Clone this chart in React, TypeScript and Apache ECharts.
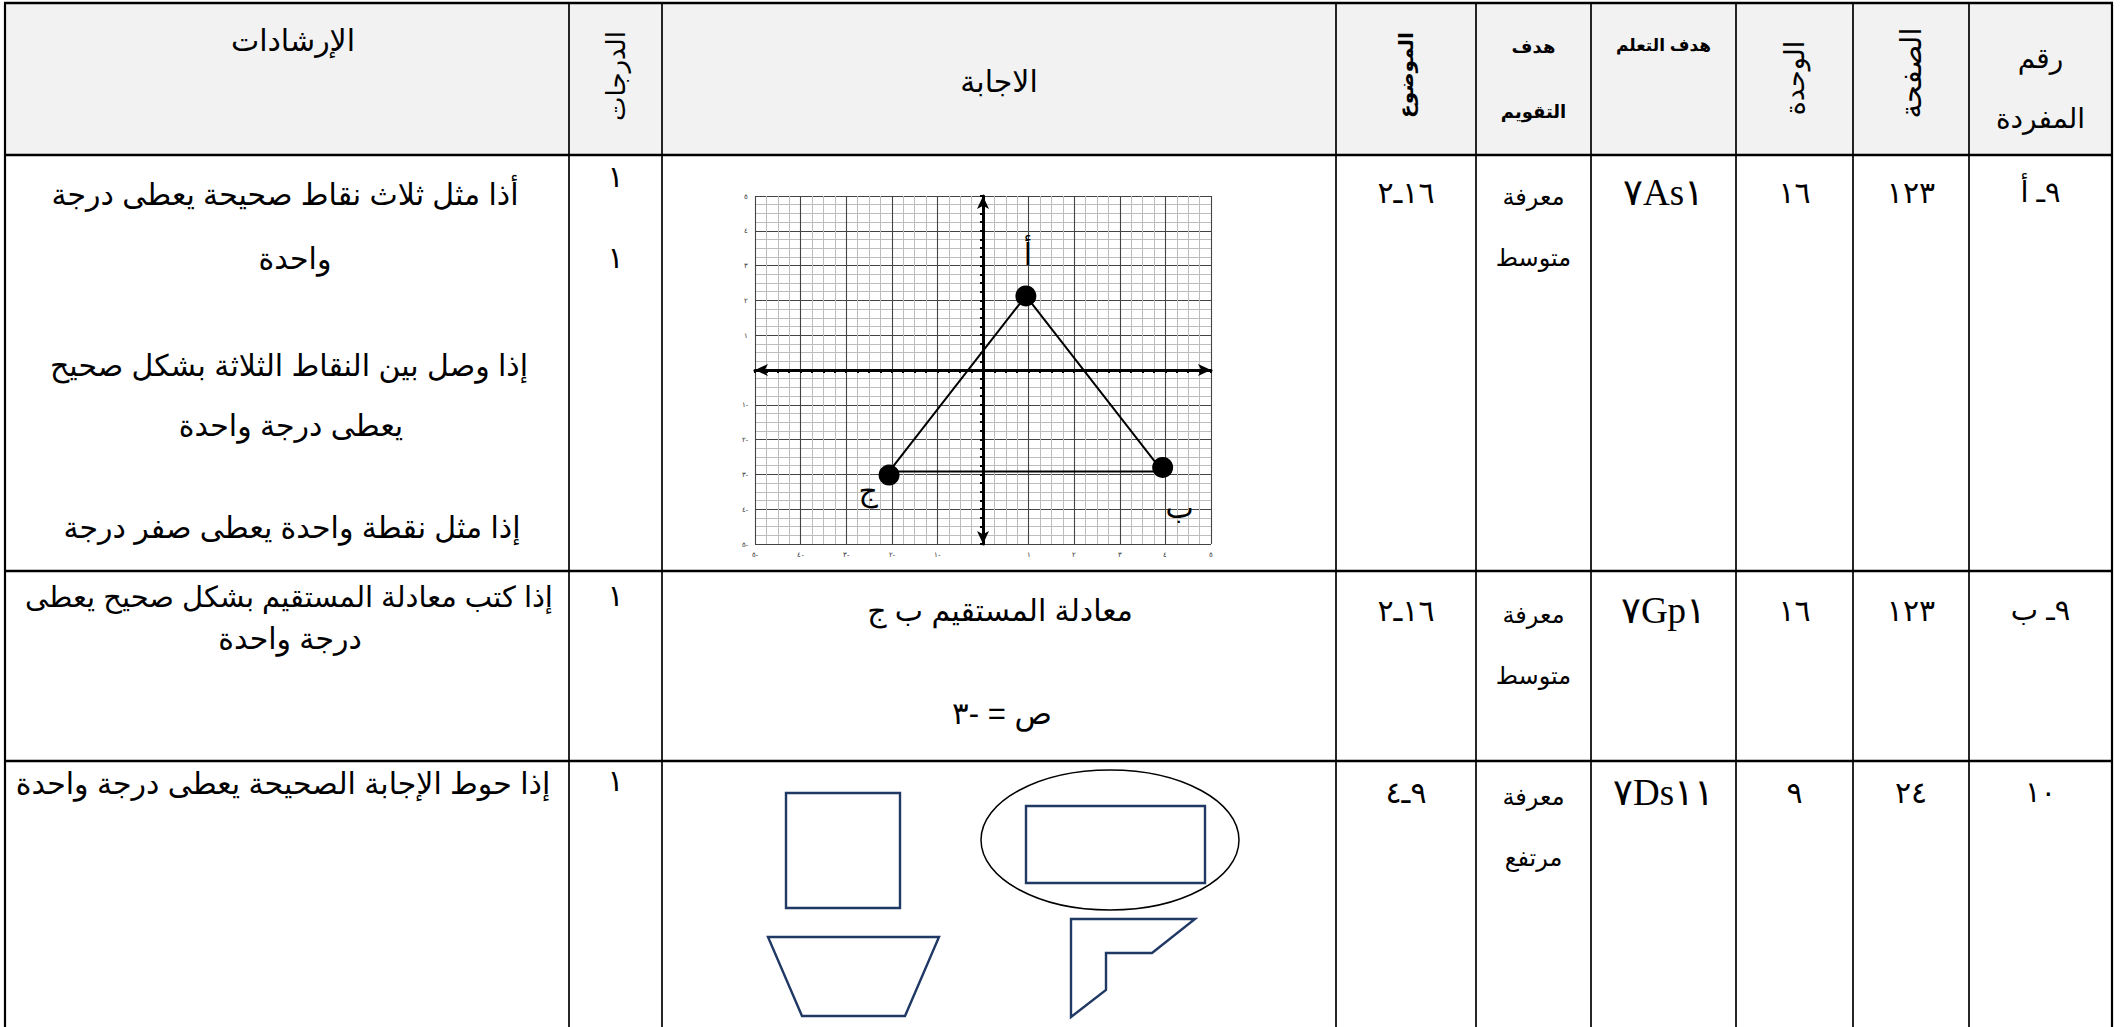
import React, { useEffect, useRef } from "react";
import * as echarts from "echarts";

// ---------- layout (pixels) ----------
const PAGE_W = 2123;
const PAGE_H = 1027;
const colEdges = [5, 569, 662, 1336, 1476, 1591, 1736, 1853, 1969, 2112];
const rowEdges = [3, 155, 571, 761];
const rowFirstLineY = [192, 610, 792];
const secondLineGap = 65;

const AR_FONT = "'Liberation Sans', 'DejaVu Sans', sans-serif";
const SERIF_FONT = "'Liberation Serif', 'DejaVu Serif', serif";

// ---------- table data ----------
const itemNumbers = ["٩ـ أ", "٩ـ ب", "١٠"];
const pages = ["١٢٣", "١٢٣", "٢٤"];
const units = ["١٦", "١٦", "٩"];
const learningGoals = ["٧As١", "٧Gp١", "٧Ds١١"];
const evalGoalKnow = ["معرفة", "معرفة", "معرفة"];
const evalGoalLevel = ["متوسط", "متوسط", "مرتفع"];
const topics = ["١٦ـ٢", "١٦ـ٢", "٩ـ٤"];
const gradeMarks = ["١", "١", "١"];
const gradeMarksExtra = ["١", "", ""];

const guidanceRow1 = [
  "أذا مثل ثلاث نقاط صحيحة يعطى درجة",
  "واحدة",
  "إذا وصل بين النقاط الثلاثة بشكل صحيح",
  "يعطى درجة واحدة",
  "إذا مثل نقطة واحدة يعطى صفر درجة",
];
const guidanceRow2 = ["إذا كتب معادلة المستقيم بشكل صحيح يعطى", "درجة واحدة"];
const guidanceRow3 = ["إذا حوط الإجابة الصحيحة يعطى درجة واحدة"];
const answerRow2 = ["معادلة المستقيم ب ج", "ص = -٣"];

// ---------- coordinate plane data ----------
const axisTickLabels = ["٥-", "٤-", "٣-", "٢-", "١-", "", "١", "٢", "٣", "٤", "٥"];
const pointNames = ["أ", "ب", "ج"];
const pointX = [0.94, 3.94, -2.06];
const pointY = [2.13, -2.8, -3.02];
const triangleX = [0.94, 3.94, -2.06, 0.94];
const triangleY = [2.13, -2.92, -2.92, 2.13];

const cx = (i: number) => (colEdges[i] + colEdges[i + 1]) / 2;

function txt(x: number, y: number, text: string, o: any = {}) {
  return {
    type: "text",
    x,
    y,
    rotation: o.rotation || 0,
    z: 20,
    style: {
      text,
      fill: "#000",
      fontSize: o.size || 26,
      fontWeight: o.bold ? "bold" : "normal",
      fontFamily: o.family || AR_FONT,
      align: "center",
      verticalAlign: "middle",
      textAlign: "center",
      textVerticalAlign: "middle",
    },
  };
}

function buildGraphic() {
  const els: any[] = [];
  // header background
  els.push({
    type: "rect",
    z: 1,
    shape: { x: colEdges[0], y: rowEdges[0], width: colEdges[9] - colEdges[0], height: rowEdges[1] - rowEdges[0] },
    style: { fill: "#f2f2f2" },
  });
  // horizontal lines
  rowEdges.forEach((y) =>
    els.push({
      type: "line",
      z: 30,
      shape: { x1: colEdges[0] - 1, y1: y, x2: colEdges[9] + 1, y2: y },
      style: { stroke: "#000", lineWidth: 2.6 },
    })
  );
  // vertical lines
  colEdges.forEach((x, i) =>
    els.push({
      type: "line",
      z: 30,
      shape: { x1: x, y1: rowEdges[0], x2: x, y2: PAGE_H },
      style: { stroke: "#000", lineWidth: i === 0 || i === 9 ? 2.2 : 1.7 },
    })
  );

  // headers
  els.push(txt(cx(8), 58, "رقم", { size: 28 }));
  els.push(txt(cx(8), 118, "المفردة", { size: 28 }));
  els.push(txt(cx(7), 73, "الصفحة", { size: 29, rotation: Math.PI / 2 }));
  els.push(txt(cx(6), 78, "الوحدة", { size: 27, rotation: Math.PI / 2 }));
  els.push(txt(cx(5), 45, "هدف التعلم", { size: 17, bold: true }));
  els.push(txt(cx(4), 47, "هدف", { size: 18, bold: true }));
  els.push(txt(cx(4), 112, "التقويم", { size: 18, bold: true }));
  els.push(txt(cx(3), 75, "الموضوع", { size: 20, bold: true, rotation: Math.PI / 2 }));
  els.push(txt(cx(2), 81, "الاجابة", { size: 30 }));
  els.push(txt(cx(1), 76, "الدرجات", { size: 26, rotation: Math.PI / 2 }));
  els.push(txt(293, 40, "الإرشادات", { size: 30 }));

  // rows
  for (let r = 0; r < 3; r++) {
    const y = rowFirstLineY[r];
    els.push(txt(cx(8), y, itemNumbers[r], { size: 29 }));
    els.push(txt(cx(7), y, pages[r], { size: 30 }));
    els.push(txt(cx(6), y, units[r], { size: 30 }));
    els.push(txt(cx(5), y, learningGoals[r], { size: 37, family: SERIF_FONT }));
    els.push(txt(cx(4), y + 4, evalGoalKnow[r], { size: 24 }));
    els.push(txt(cx(4), y + secondLineGap, evalGoalLevel[r], { size: 24 }));
    els.push(txt(cx(3), y, topics[r], { size: 30 }));
  }
  // grades
  els.push(txt(cx(1), 176, gradeMarks[0], { size: 30 }));
  els.push(txt(cx(1), 257, gradeMarksExtra[0], { size: 30 }));
  els.push(txt(cx(1), 595, gradeMarks[1], { size: 30 }));
  els.push(txt(cx(1), 780, gradeMarks[2], { size: 30 }));

  // guidance
  const g1x = [285, 295, 289, 291, 292];
  const g1y = [194, 258, 365, 425, 527];
  guidanceRow1.forEach((s, i) => els.push(txt(g1x[i], g1y[i], s, { size: 30 })));
  els.push(txt(289, 597, guidanceRow2[0], { size: 29 }));
  els.push(txt(290, 638, guidanceRow2[1], { size: 30 }));
  els.push(txt(283, 783, guidanceRow3[0], { size: 30 }));

  // answer row 2
  els.push(txt(1000, 610, answerRow2[0], { size: 30 }));
  els.push(txt(1002, 713, answerRow2[1], { size: 31 }));

  // answer row 3 shapes
  const navy = "#1f3864";
  els.push({
    type: "ellipse",
    z: 20,
    shape: { cx: 1110, cy: 840, rx: 129, ry: 70 },
    style: { fill: "none", stroke: "#000", lineWidth: 1.5 },
  });
  els.push({
    type: "rect",
    z: 20,
    shape: { x: 1026, y: 806, width: 179, height: 77 },
    style: { fill: "none", stroke: navy, lineWidth: 2.4 },
  });
  els.push({
    type: "rect",
    z: 20,
    shape: { x: 786, y: 793, width: 114, height: 115 },
    style: { fill: "none", stroke: navy, lineWidth: 2.4 },
  });
  els.push({
    type: "polygon",
    z: 20,
    shape: { points: [[768, 937], [939, 937], [905, 1016], [802, 1016]] },
    style: { fill: "none", stroke: navy, lineWidth: 2.4 },
  });
  els.push({
    type: "polygon",
    z: 20,
    shape: {
      points: [[1071, 919], [1195, 919], [1152, 953], [1106, 953], [1106, 990], [1071, 1017]],
    },
    style: { fill: "none", stroke: navy, lineWidth: 2.4 },
  });
  return els;
}

const labelOffsets: Record<string, number[]> = {
  "أ": [2, -41],
  "ب": [17, 40],
  "ج": [-21, 15],
};

function axisCfg() {
  return {
    type: "value",
    min: -5,
    max: 5,
    interval: 1,
    axisLine: {
      onZero: true,
      symbol: ["arrow", "arrow"],
      symbolSize: [9, 13],
      lineStyle: { color: "#000", width: 3 },
    },
    axisTick: { show: true, length: 3, lineStyle: { color: "#000", width: 2 } },
    minorTick: { show: true, splitNumber: 4, length: 3, lineStyle: { color: "#000", width: 2 } },
    axisLabel: {
      show: true,
      showMinLabel: true,
      showMaxLabel: true,
      fontSize: 7,
      color: "#333",
      margin: 7,
      formatter: (v: number) => axisTickLabels[Math.round(v) + 5] || "",
    },
    splitLine: { show: true, lineStyle: { color: "#444", width: 1.1 } },
    minorSplitLine: { show: true, lineStyle: { color: "#bdbdbd", width: 1 } },
  };
}

export default function App() {
  const ref = useRef<HTMLDivElement>(null);
  useEffect(() => {
    if (!ref.current) return;
    const chart = echarts.init(ref.current, undefined, { renderer: "svg" });
    const option: any = {
      animation: false,
      backgroundColor: "#ffffff",
      grid: { left: 755, top: 196, width: 456, height: 348, containLabel: false },
      xAxis: axisCfg(),
      yAxis: axisCfg(),
      series: [
        {
          type: "line",
          data: triangleX.map((x, i) => [x, triangleY[i]]),
          symbol: "none",
          lineStyle: { color: "#000", width: 2 },
          z: 5,
        },
        {
          type: "scatter",
          data: pointNames.map((n, i) => ({ name: n, value: [pointX[i], pointY[i]] })),
          symbolSize: 21,
          itemStyle: { color: "#000", opacity: 1 },
          z: 6,
          label: {
            show: true,
            position: "inside",
            formatter: (p: any) => p.name,
            color: "#000",
            fontSize: 30,
            fontFamily: AR_FONT,
          },
          labelLayout: (p: any) => {
            const off = labelOffsets[pointNames[p.dataIndex]];
            return { dx: off[0], dy: off[1] };
          },
        },
      ],
      graphic: { elements: buildGraphic() },
    };
    chart.setOption(option);
    return () => chart.dispose();
  }, []);
  return (
    <div
      ref={ref}
      style={{ position: "absolute", left: 0, top: 0, width: PAGE_W, height: PAGE_H, background: "#fff" }}
    />
  );
}
